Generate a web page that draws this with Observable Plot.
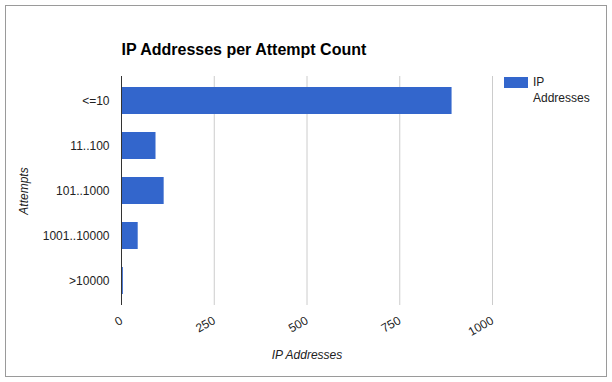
<!DOCTYPE html>
<html>
<head>
<meta charset="utf-8">
<script src="https://cdn.jsdelivr.net/npm/d3@7"></script>
<script src="https://cdn.jsdelivr.net/npm/@observablehq/plot@0.6"></script>
<style>
  html, body { margin: 0; padding: 0; background: #fff; }
  #wrap { position: relative; width: 612px; height: 382px; font-family: "Liberation Sans", Arial, sans-serif; }
  #frame { position: absolute; left: 5px; top: 5px; width: 600px; height: 370px; border: 1px solid #9a9a9a; pointer-events: none; }
  #chart { position: absolute; left: 0; top: 0; }
  #legend { position: absolute; left: 504px; top: 74px; font-size: 12px; line-height: 16px; color: #222; }
  #legend .sw { position: absolute; left: 0; top: 3px; width: 24px; height: 11px; background: #3366cc; }
  #legend .lab { position: absolute; left: 29px; top: 0; white-space: nowrap; }
</style>
</head>
<body>
<div id="wrap">
  <div id="chart"></div>
  <div id="legend"><div class="sw"></div><div class="lab">IP<br>Addresses</div></div>
  <div id="frame"></div>
</div>
<script>
const categories = ["<=10", "11..100", "101..1000", "1001..10000", ">10000"];
const values = [891, 93, 115, 45, 5];
const xTicks = [0, 250, 500, 750, 1000];
const titleText = "IP Addresses per Attempt Count";
const xLabel = "IP Addresses";
const yLabel = "Attempts";
const seriesName = "IP Addresses";

const data = categories.map((c, i) => ({category: c, value: values[i]}));

const chart = Plot.plot({
  width: 612,
  height: 382,
  marginLeft: 121,
  marginRight: 120,
  marginTop: 76,
  marginBottom: 77,
  style: {fontFamily: "'Liberation Sans', Arial, sans-serif", fontSize: "12px", color: "#222", background: "transparent"},
  x: {domain: [0, 1000]},
  y: {domain: categories, paddingInner: 0.39, paddingOuter: 0.195},
  marks: [
    Plot.gridX(xTicks.filter(d => d !== 0), {stroke: "#cccccc", strokeOpacity: 1}),
    Plot.barX(data, {x: "value", y: "category", fill: "#3366cc"}),
    Plot.ruleX([0], {stroke: "#333333", strokeWidth: 1}),
    Plot.axisX(xTicks, {tickSize: 0, tickPadding: 14, tickRotate: -30, tickFormat: d => String(d), label: null, fill: "#222", fontSize: 12}),
    Plot.axisY({tickSize: 0, tickPadding: 12, label: null, fill: "#222", fontSize: 12}),
    Plot.text([titleText], {frameAnchor: "top-left", dy: -27, textAnchor: "start", lineAnchor: "middle", fontWeight: "bold", fontSize: 16, fill: "#000"}),
    Plot.text([xLabel], {frameAnchor: "bottom", dy: 50, textAnchor: "middle", lineAnchor: "middle", fontStyle: "italic", fontSize: 12, fill: "#222"}),
    Plot.text([yLabel], {frameAnchor: "left", dx: -97, rotate: -90, textAnchor: "middle", lineAnchor: "middle", fontStyle: "italic", fontSize: 12, fill: "#222"})
  ]
});
document.getElementById("chart").appendChild(chart);
</script>
</body>
</html>
